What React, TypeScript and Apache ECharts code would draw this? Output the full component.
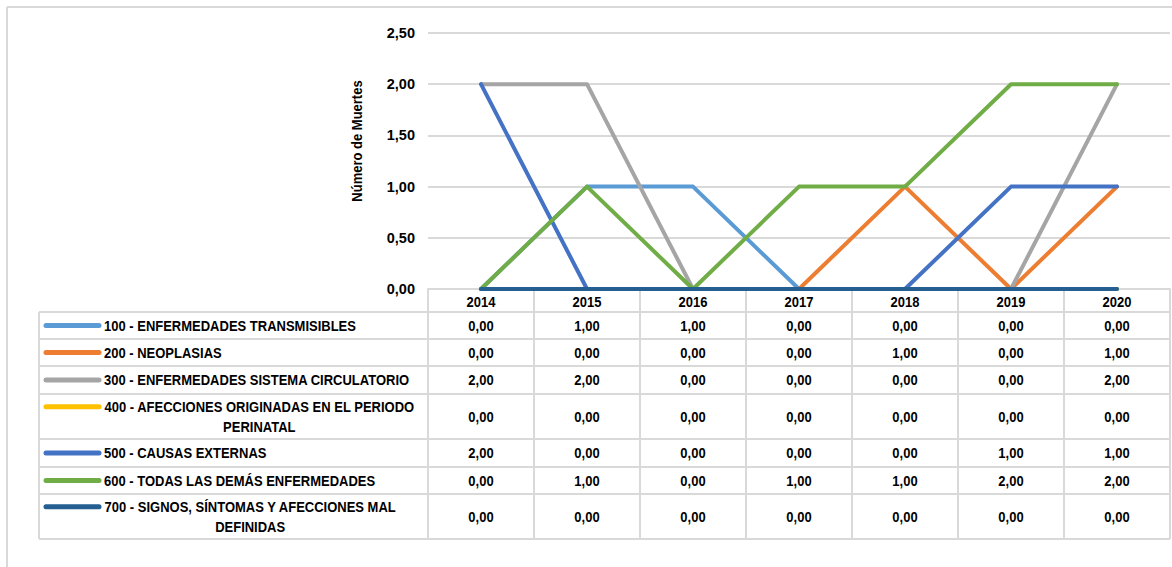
import React, { useEffect, useRef } from "react";
import * as echarts from "echarts";

const years = ["2014", "2015", "2016", "2017", "2018", "2019", "2020"];
const seriesNames = [
  "100 - ENFERMEDADES TRANSMISIBLES",
  "200 - NEOPLASIAS",
  "300 - ENFERMEDADES SISTEMA CIRCULATORIO",
  "400 - AFECCIONES ORIGINADAS EN EL PERIODO\nPERINATAL",
  "500 - CAUSAS EXTERNAS",
  "600 - TODAS LAS DEMÁS ENFERMEDADES",
  "700 - SIGNOS, SÍNTOMAS Y AFECCIONES MAL\nDEFINIDAS",
];
const s100 = [0, 1, 1, 0, 0, 0, 0];
const s200 = [0, 0, 0, 0, 1, 0, 1];
const s300 = [2, 2, 0, 0, 0, 0, 2];
const s400 = [0, 0, 0, 0, 0, 0, 0];
const s500 = [2, 0, 0, 0, 0, 1, 1];
const s600 = [0, 1, 0, 1, 1, 2, 2];
const s700 = [0, 0, 0, 0, 0, 0, 0];
const seriesValues = [s100, s200, s300, s400, s500, s600, s700];
const colors = ["#5B9BD5", "#ED7D31", "#A5A5A5", "#FFC000", "#4472C4", "#70AD47", "#255E91"];
const yAxisTitle = "Número de Muertes";

const FONT = "'Liberation Sans', Arial, sans-serif";
const GRID_COLOR = "#D9D9D9";
const TEXT_SCALE_Y = 1.15;

const fmt = (v: number) => v.toFixed(2).replace(".", ",");

function measure(text: string, font: string): number {
  const c = document.createElement("canvas");
  const ctx = c.getContext("2d");
  if (!ctx) return text.length * 7;
  ctx.font = font;
  return ctx.measureText(text).width;
}

export default function App() {
  const ref = useRef<HTMLDivElement>(null);
  useEffect(() => {
    document.body.style.margin = "0";
    if (!ref.current) return;
    const chart = echarts.init(ref.current, undefined, { renderer: "svg" });
    chart.setOption({
      animation: false,
      backgroundColor: "#fff",
      grid: { left: 428, right: 2, top: 33, bottom: 278 },
      xAxis: {
        type: "category",
        data: years,
        boundaryGap: true,
        axisLine: { show: true, lineStyle: { color: GRID_COLOR, width: 2 } },
        axisTick: { show: false },
        axisLabel: { show: false },
      },
      yAxis: {
        type: "value",
        min: 0,
        max: 2.5,
        interval: 0.5,
        axisLine: { show: false },
        axisTick: { show: false },
        splitLine: { lineStyle: { color: GRID_COLOR, width: 2 } },
        axisLabel: {
          margin: 13,
          fontFamily: FONT,
          fontWeight: "bold",
          fontSize: 14.5,
          color: "#000",
          formatter: (v: number) => fmt(v),
        },
      },
      series: seriesValues.map((vals, i) => ({
        type: "line",
        name: seriesNames[i],
        data: vals,
        showSymbol: false,
        symbol: "none",
        lineStyle: { color: colors[i], width: 4, cap: "round", join: "round" },
        itemStyle: { color: colors[i] },
      })),
    });

    const centers = years.map((_, i) => chart.convertToPixel({ xAxisIndex: 0 }, i) as number);
    const band = centers.length > 1 ? centers[1] - centers[0] : 106;
    const colEdges = [centers[0] - band / 2, ...centers.map((c) => c + band / 2)];
    const tableLeft = 39;
    const tableRight = colEdges[colEdges.length - 1];
    const headerTop = 289;
    const rowEdges = [312, 339, 366, 394, 439, 467, 494, 539];
    const lineH = 19.5;
    const tFont = "bold 13px " + FONT;

    const txt = (text: string, x: number, y: number, align: string) => ({
      type: "text",
      x,
      y,
      scaleY: TEXT_SCALE_Y,
      style: { text, font: tFont, fill: "#000", align, verticalAlign: "middle" },
      silent: true,
    });

    const g: any[] = [];
    g.push({ type: "line", shape: { x1: 7, y1: 7, x2: 7, y2: 567 }, style: { stroke: GRID_COLOR, lineWidth: 2 }, silent: true });
    g.push({ type: "line", shape: { x1: 7, y1: 7, x2: 1172, y2: 7 }, style: { stroke: GRID_COLOR, lineWidth: 2 }, silent: true });
    rowEdges.forEach((y) => {
      g.push({ type: "line", shape: { x1: tableLeft, y1: y, x2: tableRight, y2: y }, style: { stroke: GRID_COLOR, lineWidth: 2 }, silent: true, z: -1 });
    });
    g.push({ type: "line", shape: { x1: tableLeft, y1: rowEdges[0], x2: tableLeft, y2: rowEdges[rowEdges.length - 1] }, style: { stroke: GRID_COLOR, lineWidth: 2 }, silent: true, z: -1 });
    colEdges.forEach((x) => {
      g.push({ type: "line", shape: { x1: x, y1: headerTop, x2: x, y2: rowEdges[rowEdges.length - 1] }, style: { stroke: GRID_COLOR, lineWidth: 2 }, silent: true, z: -1 });
    });

    years.forEach((yr, c) => {
      g.push(txt(yr, centers[c], (headerTop + rowEdges[0]) / 2 + 1, "center"));
    });

    seriesNames.forEach((name, r) => {
      const top = rowEdges[r];
      const bottom = rowEdges[r + 1];
      const mid = (top + bottom) / 2;
      const lines = name.split("\n");
      const firstLineY = lines.length > 1 ? mid - (lineH * (lines.length - 1)) / 2 : mid;
      g.push({
        type: "line",
        shape: { x1: 46, y1: firstLineY, x2: 99, y2: firstLineY },
        style: { stroke: colors[r], lineWidth: 5, lineCap: "round" },
        silent: true,
      });
      if (lines.length === 1) {
        g.push(txt(name, 104, mid, "left"));
      } else {
        const w = measure(lines[0], tFont);
        const cx = 104 + w / 2;
        lines.forEach((ln, k) => g.push(txt(ln, cx, firstLineY + k * lineH, "center")));
      }
      seriesValues[r].forEach((v, c) => g.push(txt(fmt(v), centers[c], mid, "center")));
    });

    g.push({
      type: "text",
      x: 357,
      y: 141,
      rotation: Math.PI / 2,
      scaleY: TEXT_SCALE_Y,
      style: { text: yAxisTitle, font: "bold 13px " + FONT, fill: "#000", align: "center", verticalAlign: "middle" },
      silent: true,
    });

    chart.setOption({ graphic: g });
    return () => chart.dispose();
  }, []);
  return <div ref={ref} style={{ width: 1172, height: 567 }} />;
}
